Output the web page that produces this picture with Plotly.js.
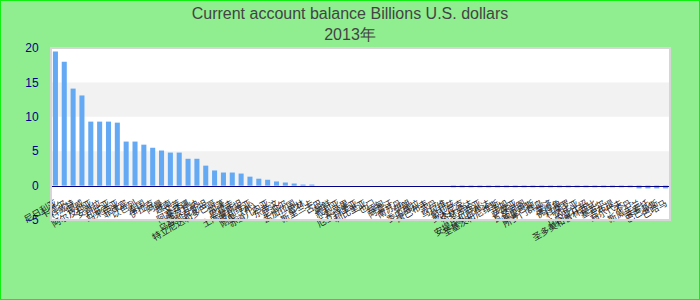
<!DOCTYPE html>
<html>
<head>
<meta charset="utf-8">
<script src="https://cdn.plot.ly/plotly-3.0.1.min.js"></script>
<style>
  html, body { margin: 0; padding: 0; background: #90ee90; }
  #wrap { width: 700px; height: 300px; box-sizing: border-box; border: 1px solid #11ee11; background: #90ee90; }
  #chart { width: 698px; height: 298px; }
</style>
</head>
<body>
<div id="wrap"><div id="chart"></div></div>
<script>
const categories = [
  "尼日利亚","卡塔尔","科威特","挪威","阿尔及利亚","安哥拉","利比亚","马来西亚","菲律宾","以色列",
  "泰国","伊拉克","阿曼","越南","文莱","阿塞拜疆","博茨瓦纳","乌兹别克斯坦","特立尼达和多巴哥","加蓬",
  "巴拉圭","土库曼斯坦","玻利维亚","刚果（布）","赤道几内亚","东帝汶","尼泊尔","孟加拉国","巴林","斯里兰卡",
  "古巴","朝鲜","叙利亚","索马里","厄立特里亚","利比里亚","也门","缅甸","阿富汗","南苏丹",
  "伊朗","委内瑞拉","津巴布韦","苏丹","马拉维","伯利兹","多米尼克","格林纳达","圣卢西亚","安提瓜和巴布达",
  "圣基茨和尼维斯","汤加","萨摩亚","瓦努阿图","基里巴斯","所罗门群岛","斐济","佛得角","科摩罗","冈比亚",
  "几内亚比绍","圣多美和普林西比","塞舌尔","吉布提","马尔代夫","不丹","斯威士兰","莱索托","巴巴多斯","巴哈马"
];
const values = [
  19.5, 18.0, 14.1, 13.1, 9.3, 9.3, 9.3, 9.15, 6.4, 6.4,
  5.95, 5.5, 5.1, 4.8, 4.8, 3.9, 3.9, 2.9, 2.2, 1.9,
  1.9, 1.75, 1.3, 1.0, 0.85, 0.6, 0.45, 0.3, 0.15, 0.15,
  0, 0, 0, 0, 0, 0, 0, 0, 0, 0,
  0, 0, 0, 0, 0, -0.25, -0.25, -0.25, -0.25, -0.25,
  -0.25, -0.25, -0.25, -0.25, -0.25, -0.25, -0.25, -0.25, -0.25, -0.25,
  -0.25, -0.25, -0.25, -0.25, -0.25, -0.25, -0.4, -0.4, -0.4, -0.4
];
const yTicks = [-5, 0, 5, 10, 15, 20];
const titleText = "Current account balance Billions U.S. dollars<br>2013年";

// alternating background bands between ticks (grey for 0-5 and 10-15)
const bands = [];
for (let i = 0; i < yTicks.length - 1; i++) {
  if (i % 2 === 1) {
    bands.push({type: 'rect', xref: 'paper', yref: 'y', x0: 0, x1: 1,
      y0: yTicks[i], y1: yTicks[i + 1], fillcolor: '#f2f2f2', line: {width: 0}, layer: 'below'});
  }
}
bands.push({type: 'rect', xref: 'paper', yref: 'paper', x0: 0, x1: 1, y0: 0, y1: 1,
  line: {color: '#d6d6d6', width: 2}, fillcolor: 'rgba(0,0,0,0)', layer: 'above'});

const trace = {
  type: 'bar', x: categories, y: values,
  marker: {color: '#63a9f4'}, hoverinfo: 'x+y'
};

const layout = {
  width: 698, height: 298,
  paper_bgcolor: '#90ee90', plot_bgcolor: '#ffffff',
  margin: {l: 49.5, r: 29, t: 47.3, b: 79, pad: 0},
  bargap: 0.43,
  showlegend: false,
  font: {family: 'Liberation Sans, Arial, sans-serif'},
  title: {text: titleText, font: {size: 16, color: '#444444'},
    x: 0.5, xref: 'container', xanchor: 'center', y: 0.94, yref: 'container', yanchor: 'top'},
  xaxis: {
    type: 'category', anchor: 'free', position: (0 - yTicks[0]) / (yTicks[yTicks.length - 1] - yTicks[0]),
    showline: true, linecolor: '#00008b', linewidth: 1.2,
    tickmode: 'linear', tick0: 0, dtick: 1, tickangle: -30,
    ticks: 'outside', ticklen: 8, tickcolor: 'rgba(0,0,0,0)',
    tickfont: {size: 9, color: '#222222', family: 'Noto Sans CJK SC, sans-serif'},
    showgrid: false, automargin: false, fixedrange: true
  },
  yaxis: {
    range: [yTicks[0], yTicks[yTicks.length - 1]], tickvals: yTicks,
    showgrid: false, zeroline: false, showline: false,
    ticks: 'outside', ticklen: 9, tickcolor: 'rgba(0,0,0,0)',
    tickfont: {size: 12, color: '#00008b'}, automargin: false, fixedrange: true
  },
  shapes: bands
};

Plotly.newPlot('chart', [trace], layout, {displayModeBar: false, staticPlot: true});
</script>
</body>
</html>
